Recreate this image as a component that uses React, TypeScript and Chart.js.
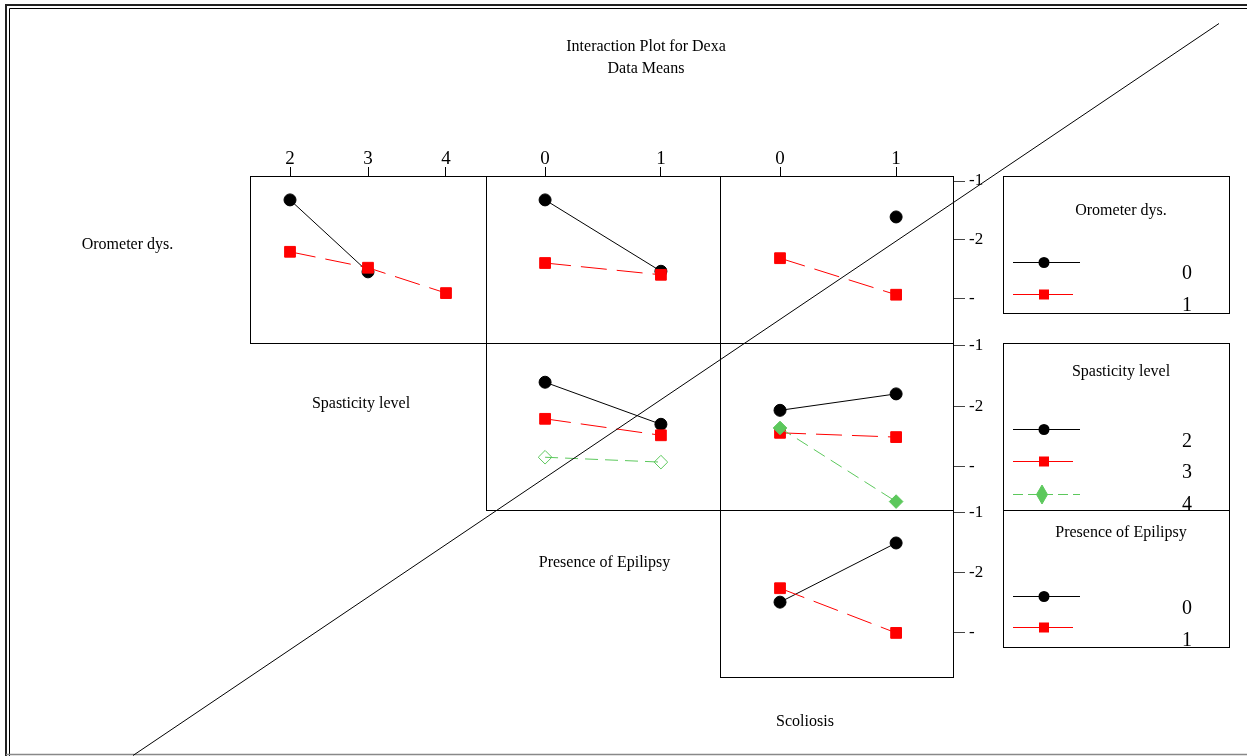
import React, { useEffect, useRef } from "react";
import { Chart, registerables } from "chart.js";
Chart.register(...registerables);

const FONT = "'Liberation Serif', 'Times New Roman', serif";

// ---- categories ----
const spasticityLevels = [2, 3, 4];
const epilepsyLevels = [0, 1];
const scoliosisLevels = [0, 1];

// ---- y tick labels (as printed) ----
const yTickValues = [-1, -2, -3];
const yTickLabels = ["-1", "-2", "-"];

// ---- data means ----
// Orometer dys. (0 / 1) vs Spasticity level
const oroBySpast0 = [-1.32, -2.54, null];
const oroBySpast1 = [-2.2, -2.47, -2.9];
// Orometer dys. vs Presence of Epilipsy
const oroByEpi0 = [-1.32, -2.53];
const oroByEpi1 = [-2.39, -2.59];
// Orometer dys. vs Scoliosis
const oroByScol0 = [null, -1.61];
const oroByScol1 = [-2.31, -2.93];
// Spasticity level (2 / 3 / 4) vs Presence of Epilipsy
const spastByEpi2 = [-1.61, -2.3];
const spastByEpi3 = [-2.21, -2.48];
const spastByEpi4 = [-2.84, -2.92];
// Spasticity level vs Scoliosis
const spastByScol2 = [-2.07, -1.8];
const spastByScol3 = [-2.44, -2.51];
const spastByScol4 = [-2.36, -3.57];
// Presence of Epilipsy (0 / 1) vs Scoliosis
const epiByScol0 = [-2.49, -1.51];
const epiByScol1 = [-2.26, -3.0];

// ---- legend labels ----
const oroLegend = ["0", "1"];
const spastLegend = ["2", "3", "4"];
const epiLegend = ["0", "1"];

// ---- layout ----
const colEdges = [250, 486, 720, 953];
const rowEdges = [176, 343, 510, 677];
const xRanges = [
  [1.487, 4.513],
  [-0.51, 1.51],
  [-0.517, 1.49],
];
const yRanges = [
  [-3.746, -0.915],
  [-3.705, -0.967],
  [-3.727, -0.967],
];
const PAD = 14;
const TOP_AXIS = 32;
const RIGHT_AXIS = 44;

const GREEN = "#5CC85C";
const seriesStyles = [
  { color: "#000000", pointStyle: "circle", radius: 6, dash: [] as number[] },
  { color: "#FF0000", pointStyle: "rect", radius: 7.6, dash: [26, 10] },
  { color: GREEN, pointStyle: "rectRot", radius: 6.8, dash: [13, 7] },
];

type PanelDef = {
  row: number;
  col: number;
  xs: number[];
  series: (number | null)[][];
  hollowLast?: boolean;
};

const panels: PanelDef[] = [
  { row: 0, col: 0, xs: spasticityLevels, series: [oroBySpast0, oroBySpast1] },
  { row: 0, col: 1, xs: epilepsyLevels, series: [oroByEpi0, oroByEpi1] },
  { row: 0, col: 2, xs: scoliosisLevels, series: [oroByScol0, oroByScol1] },
  { row: 1, col: 1, xs: epilepsyLevels, series: [spastByEpi2, spastByEpi3, spastByEpi4], hollowLast: true },
  { row: 1, col: 2, xs: scoliosisLevels, series: [spastByScol2, spastByScol3, spastByScol4] },
  { row: 2, col: 2, xs: scoliosisLevels, series: [epiByScol0, epiByScol1] },
];

const borderPlugin = {
  id: "panelBorder",
  afterDatasetsDraw(chart: any) {
    const { left, top, right, bottom } = chart.chartArea;
    const ctx = chart.ctx;
    ctx.save();
    ctx.strokeStyle = "#000";
    ctx.lineWidth = 1;
    ctx.setLineDash([]);
    ctx.strokeRect(Math.round(left) + 0.5, Math.round(top) + 0.5, Math.round(right - left), Math.round(bottom - top));
    ctx.restore();
  },
};

function Panel({ p }: { p: PanelDef }) {
  const ref = useRef<HTMLCanvasElement>(null);
  const topAxis = p.row === 0;
  const rightAxis = p.col === 2;
  const pw = colEdges[p.col + 1] - colEdges[p.col];
  const ph = rowEdges[p.row + 1] - rowEdges[p.row];
  const T = topAxis ? TOP_AXIS : 0;
  const R = rightAxis ? RIGHT_AXIS : 0;
  const cw = pw + 2 * PAD + R;
  const chh = ph + 2 * PAD + T;
  const left = colEdges[p.col] - PAD;
  const top = rowEdges[p.row] - PAD - T;

  useEffect(() => {
    const datasets = p.series.map((vals, i) => {
      const st = seriesStyles[i];
      const hollow = p.hollowLast && i === p.series.length - 1;
      return {
        data: p.xs.map((x, k) => ({ x, y: vals[k] })),
        borderColor: st.color,
        backgroundColor: hollow ? "rgba(0,0,0,0)" : st.color,
        pointBackgroundColor: hollow ? "rgba(0,0,0,0)" : st.color,
        pointBorderColor: st.color,
        pointBorderWidth: 1,
        pointStyle: st.pointStyle,
        pointRadius: st.radius,
        pointHoverRadius: st.radius,
        borderWidth: 1,
        borderDash: st.dash,
        tension: 0,
        fill: false,
        spanGaps: false,
        order: -i,
      };
    });
    const chart = new Chart(ref.current as HTMLCanvasElement, {
      type: "line",
      data: { datasets } as any,
      plugins: [borderPlugin],
      options: {
        animation: false,
        responsive: false,
        maintainAspectRatio: false,
        events: [],
        layout: { padding: PAD },
        plugins: { legend: { display: false }, tooltip: { enabled: false }, title: { display: false } },
        scales: {
          x: {
            type: "linear",
            position: "top",
            display: topAxis,
            min: xRanges[p.col][0],
            max: xRanges[p.col][1],
            afterBuildTicks: (axis: any) => {
              axis.ticks = p.xs.map((v) => ({ value: v }));
            },
            afterFit: (axis: any) => {
              axis.height = topAxis ? TOP_AXIS : 0;
            },
            ticks: {
              autoSkip: false,
              maxRotation: 0,
              padding: -3,
              color: "#000",
              font: { family: FONT, size: 19 },
              callback: (v: any) => String(v),
            },
            grid: { drawOnChartArea: false, drawTicks: true, tickLength: 9, color: "#000", lineWidth: 1 },
            border: { display: false },
          },
          y: {
            type: "linear",
            position: "right",
            display: rightAxis,
            min: yRanges[p.row][0],
            max: yRanges[p.row][1],
            afterBuildTicks: (axis: any) => {
              axis.ticks = yTickValues.map((v) => ({ value: v }));
            },
            afterFit: (axis: any) => {
              axis.width = rightAxis ? RIGHT_AXIS : 0;
            },
            ticks: {
              autoSkip: false,
              padding: 4,
              color: "#000",
              font: { family: FONT, size: 17 },
              callback: (v: any) => {
                const i = yTickValues.indexOf(Number(v));
                return i >= 0 ? yTickLabels[i] : "";
              },
            },
            grid: { drawOnChartArea: false, drawTicks: true, tickLength: 12, color: "#444", lineWidth: 1 },
            border: { display: true, color: "#444", width: 1 },
          },
        },
      } as any,
    });
    return () => chart.destroy();
  }, []);

  return (
    <canvas
      ref={ref}
      width={cw}
      height={chh}
      style={{ position: "absolute", left, top, width: cw, height: chh }}
    />
  );
}

function LegendMarker({ style, x, y, hollow }: { style: number; x: number; y: number; hollow?: boolean }) {
  const st = seriesStyles[style];
  if (style === 0)
    return (
      <g>
        <line x1={1013} x2={1080} y1={y + 0.5} y2={y + 0.5} stroke={st.color} strokeWidth={1} />
        <circle cx={x} cy={y + 0.5} r={5.5} fill={st.color} />
      </g>
    );
  if (style === 1)
    return (
      <g>
        <line x1={1013} x2={1073} y1={y + 0.5} y2={y + 0.5} stroke={st.color} strokeWidth={1} />
        <rect x={x - 5} y={y - 4.5} width={10} height={10} fill={st.color} />
      </g>
    );
  return (
    <g>
      <line x1={1013} x2={1080} y1={y + 0.5} y2={y + 0.5} stroke={st.color} strokeWidth={1} strokeDasharray="10 5" />
      <polygon
        points={`${x - 2},${y - 9} ${x + 3.5},${y + 0.5} ${x - 2},${y + 10} ${x - 7.5},${y + 0.5}`}
        fill={hollow ? "none" : st.color}
        stroke={st.color}
      />
    </g>
  );
}

export default function App() {
  const txt = { fontFamily: FONT, fontSize: 16, fill: "#000" } as any;
  const num = { fontFamily: FONT, fontSize: 20, fill: "#000", textAnchor: "middle" } as any;
  return (
    <div style={{ position: "absolute", left: 0, top: 0, width: 1247, height: 756, background: "#fff", overflow: "hidden" }}>
      {panels.map((p, i) => (
        <Panel key={i} p={p} />
      ))}
      <svg width={1247} height={756} style={{ position: "absolute", left: 0, top: 0, pointerEvents: "none" }}>
        {/* frame */}
        <path d="M6 756 V5 H1247" stroke="#222" strokeWidth={2} fill="none" />
        <path d="M9.5 756 V8.5 H1247" stroke="#000" strokeWidth={1} fill="none" />
        <line x1={6} x2={1247} y1={754.5} y2={754.5} stroke="#888" strokeWidth={1.5} />

        {/* titles */}
        <text x={646} y={51} textAnchor="middle" {...txt}>Interaction Plot for Dexa</text>
        <text x={646} y={73} textAnchor="middle" {...txt}>Data Means</text>

        {/* factor labels */}
        <text x={127.5} y={249} textAnchor="middle" {...txt}>Orometer dys.</text>
        <text x={361} y={408} textAnchor="middle" {...txt}>Spasticity level</text>
        <text x={604.5} y={567} textAnchor="middle" {...txt}>Presence of Epilipsy</text>
        <text x={805} y={726} textAnchor="middle" {...txt}>Scoliosis</text>

        {/* legend 1 */}
        <rect x={1003.5} y={176.5} width={226} height={137} fill="none" stroke="#000" />
        <text x={1121} y={215} textAnchor="middle" {...txt}>Orometer dys.</text>
        <LegendMarker style={0} x={1044} y={262} />
        <LegendMarker style={1} x={1044} y={294} />
        <text x={1187} y={279} {...num}>{oroLegend[0]}</text>
        <text x={1187} y={311} {...num}>{oroLegend[1]}</text>

        {/* legend 2 */}
        <rect x={1003.5} y={343.5} width={226} height={167} fill="none" stroke="#000" />
        <text x={1121} y={376} textAnchor="middle" {...txt}>Spasticity level</text>
        <LegendMarker style={0} x={1044} y={429} />
        <LegendMarker style={1} x={1044} y={461} />
        <LegendMarker style={2} x={1044} y={494} />
        <text x={1187} y={447} {...num}>{spastLegend[0]}</text>
        <text x={1187} y={478} {...num}>{spastLegend[1]}</text>
        <text x={1187} y={510} {...num}>{spastLegend[2]}</text>

        {/* legend 3 */}
        <rect x={1003.5} y={510.5} width={226} height={137} fill="none" stroke="#000" />
        <text x={1121} y={537} textAnchor="middle" {...txt}>Presence of Epilipsy</text>
        <LegendMarker style={0} x={1044} y={596} />
        <LegendMarker style={1} x={1044} y={627} />
        <text x={1187} y={614} {...num}>{epiLegend[0]}</text>
        <text x={1187} y={646} {...num}>{epiLegend[1]}</text>

        {/* stray diagonal line */}
        <line x1={133} y1={755.5} x2={1219} y2={23.5} stroke="#000" strokeWidth={1} />
      </svg>
    </div>
  );
}
